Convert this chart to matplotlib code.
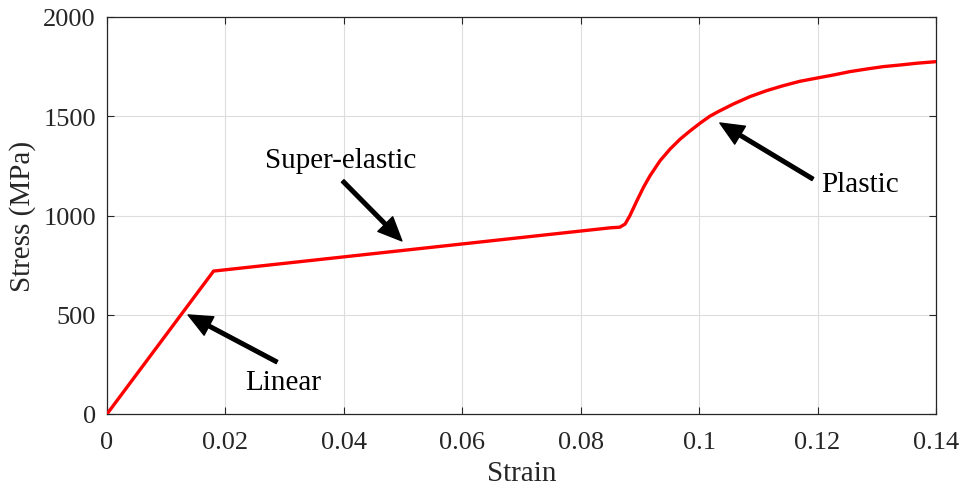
import matplotlib
matplotlib.use("Agg")
import matplotlib.pyplot as plt

plt.rcParams['font.family'] = ['Liberation Serif', 'DejaVu Serif']
plt.rcParams['mathtext.fontset'] = 'stix'

strain = [0, 0.018, 0.085, 0.0866, 0.0875, 0.0883, 0.0895, 0.0906, 0.0917, 0.0934,
          0.0951, 0.0968, 0.0985, 0.1002, 0.1018, 0.1032, 0.1058, 0.1086, 0.1114,
          0.1142, 0.117, 0.12, 0.1227, 0.1255, 0.1283, 0.1311, 0.1339, 0.1367, 0.14]
stress = [0, 720, 938, 941, 957, 999, 1075, 1142, 1200, 1276,
          1335, 1385, 1427, 1466, 1500, 1523, 1562, 1599, 1629,
          1654, 1676, 1693, 1708, 1725, 1738, 1750, 1758, 1767, 1775]

xticks = [0, 0.02, 0.04, 0.06, 0.08, 0.1, 0.12, 0.14]
xticklabels = ['0', '0.02', '0.04', '0.06', '0.08', '0.1', '0.12', '0.14']
yticks = [0, 500, 1000, 1500, 2000]

labels = ['Linear', 'Super-elastic', 'Plastic']
heads = [(0.0137, 499), (0.0498, 872), (0.1035, 1466)]
tails = [(0.0287, 262), (0.0398, 1174), (0.1192, 1184)]
text_pos = [(0.0297, 161), (0.0394, 1280), (0.1272, 1159)]

fig = plt.figure(figsize=(9.6, 4.89), dpi=100)
ax = fig.add_axes([107/960, 1 - 415/489, (936-107)/960, (415-18)/489])

ax.plot(strain, stress, color='#ff0000', lw=2.4, solid_joinstyle='round', zorder=3)

ax.set_xlim(0, 0.14)
ax.set_ylim(0, 2000)
ax.set_xticks(xticks)
ax.set_xticklabels(xticklabels)
ax.set_yticks(yticks)
ax.grid(True, color='#dddddd', lw=0.8)
ax.set_axisbelow(True)
ax.tick_params(direction='in', top=True, right=True, labelsize=19, length=5,
               width=0.8, colors='#262626', labelcolor='#262626')
ax.tick_params(axis='x', pad=12)
ax.tick_params(axis='y', pad=8)
for s in ax.spines.values():
    s.set_linewidth(0.9)
    s.set_color('#262626')
ax.set_xlabel('Strain', fontsize=21, labelpad=5, color='#262626')
ax.set_ylabel('Stress (MPa)', fontsize=21, labelpad=5, color='#262626')

for lab, h, t, tp in zip(labels, heads, tails, text_pos):
    ax.annotate('', xy=h, xytext=t,
                arrowprops=dict(facecolor='black', edgecolor='black', width=2.6,
                                headwidth=15, headlength=17, shrink=0), zorder=4)
    ax.text(tp[0], tp[1], lab, fontsize=21, ha='center', va='center')

fig.savefig('out.png', dpi=100)
